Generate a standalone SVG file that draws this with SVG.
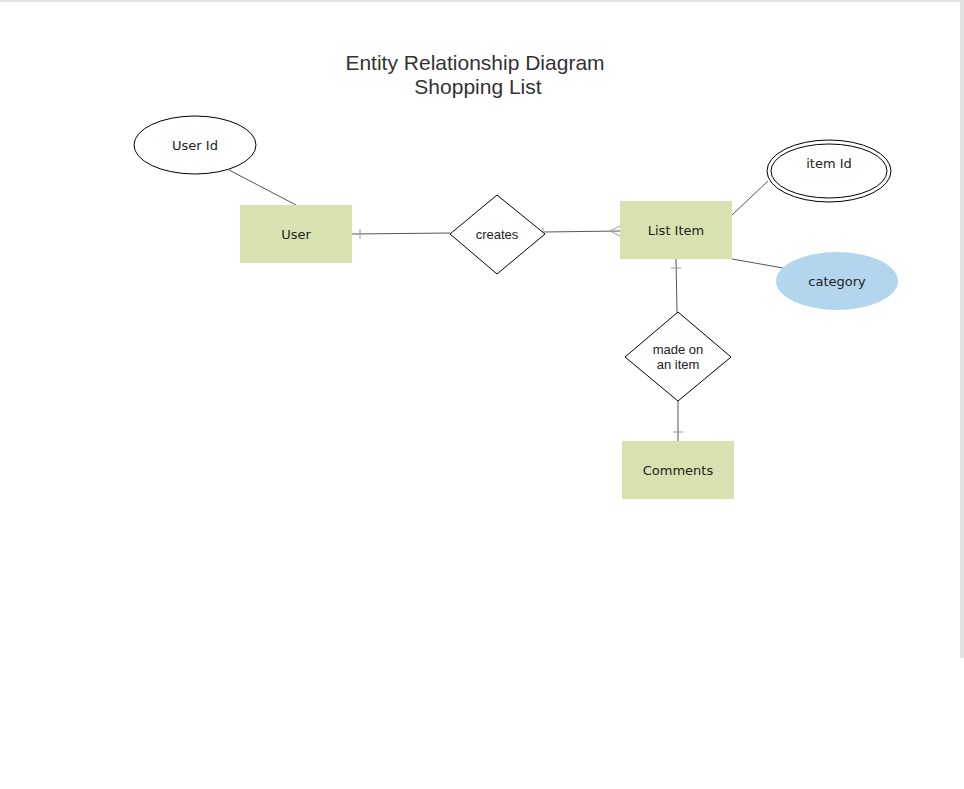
<svg xmlns="http://www.w3.org/2000/svg" width="964" height="789" viewBox="0 0 964 789">
<style>
.ent{fill:#d8e2b0;stroke:none}
.rel{fill:#fff;stroke:#000;stroke-width:1}
.attr{fill:#fff;stroke:#000;stroke-width:1}
.lbl{font-family:"DejaVu Sans",Verdana,sans-serif;font-size:13px;fill:#222;text-anchor:middle}
.rl{font-family:"Liberation Sans",Arial,sans-serif;font-size:13px;fill:#222;text-anchor:middle}
.ttl{font-family:"Liberation Sans",Arial,sans-serif;font-size:21px;fill:#333;text-anchor:middle}
.ln{stroke:#555;stroke-width:1;fill:none}
.tk{stroke:#999;stroke-width:1;fill:none}
</style>
<rect x="0" y="0" width="964" height="789" fill="#fff"/>
<rect x="0" y="0" width="960" height="2" fill="#e2e2e4"/>
<rect x="960" y="0" width="4" height="658" fill="#e2e2e4"/>
<g id="title">
<text class="ttl" x="475" y="70">Entity Relationship Diagram</text>
<text class="ttl" x="478" y="94">Shopping List</text>
</g>
<g id="connectors">
<line class="ln" x1="229" y1="170" x2="296" y2="205"/>
<line class="ln" x1="352" y1="234" x2="450" y2="233"/>
<line class="tk" x1="360" y1="229" x2="360" y2="239"/>
<line class="ln" x1="544" y1="232" x2="620" y2="231"/>
<line class="tk" x1="543" y1="228" x2="543" y2="236"/>
<path class="tk" d="M620,226 L610,231 L620,236"/>
<line class="ln" x1="732" y1="215" x2="768" y2="181"/>
<line class="ln" x1="732" y1="259" x2="783" y2="268"/>
<line class="ln" x1="676" y1="259" x2="677" y2="312"/>
<line class="tk" x1="671" y1="268" x2="681" y2="268"/>
<line class="ln" x1="678" y1="401" x2="678" y2="441"/>
<line class="tk" x1="673" y1="432" x2="683" y2="432"/>
</g>
<g id="userId">
<ellipse class="attr" cx="195" cy="145" rx="61" ry="29"/>
<text class="lbl" x="195" y="150">User Id</text>
</g>
<g id="user">
<rect class="ent" x="240" y="205" width="112" height="58"/>
<text class="lbl" x="296" y="239">User</text>
</g>
<g id="creates">
<polygon class="rel" points="497,195 545,234 497,274 450,234"/>
<text class="rl" x="497" y="239">creates</text>
</g>
<g id="listItem">
<rect class="ent" x="620" y="201" width="112" height="58"/>
<text class="lbl" x="676" y="235">List Item</text>
</g>
<g id="itemId">
<ellipse class="attr" cx="829" cy="171" rx="62" ry="31"/>
<ellipse class="attr" cx="829" cy="171" rx="58" ry="27"/>
<text class="lbl" x="829" y="168">item Id</text>
</g>
<g id="category">
<ellipse cx="837" cy="281" rx="61" ry="29" fill="#b3d6ee"/>
<text class="lbl" x="837" y="286">category</text>
</g>
<g id="madeOn">
<polygon class="rel" points="678,312 731,357 678,401 625,357"/>
<text class="rl" x="678" y="354">made on</text>
<text class="rl" x="678" y="369">an item</text>
</g>
<g id="comments">
<rect class="ent" x="622" y="441" width="112" height="58"/>
<text class="lbl" x="678" y="475">Comments</text>
</g>
</svg>
